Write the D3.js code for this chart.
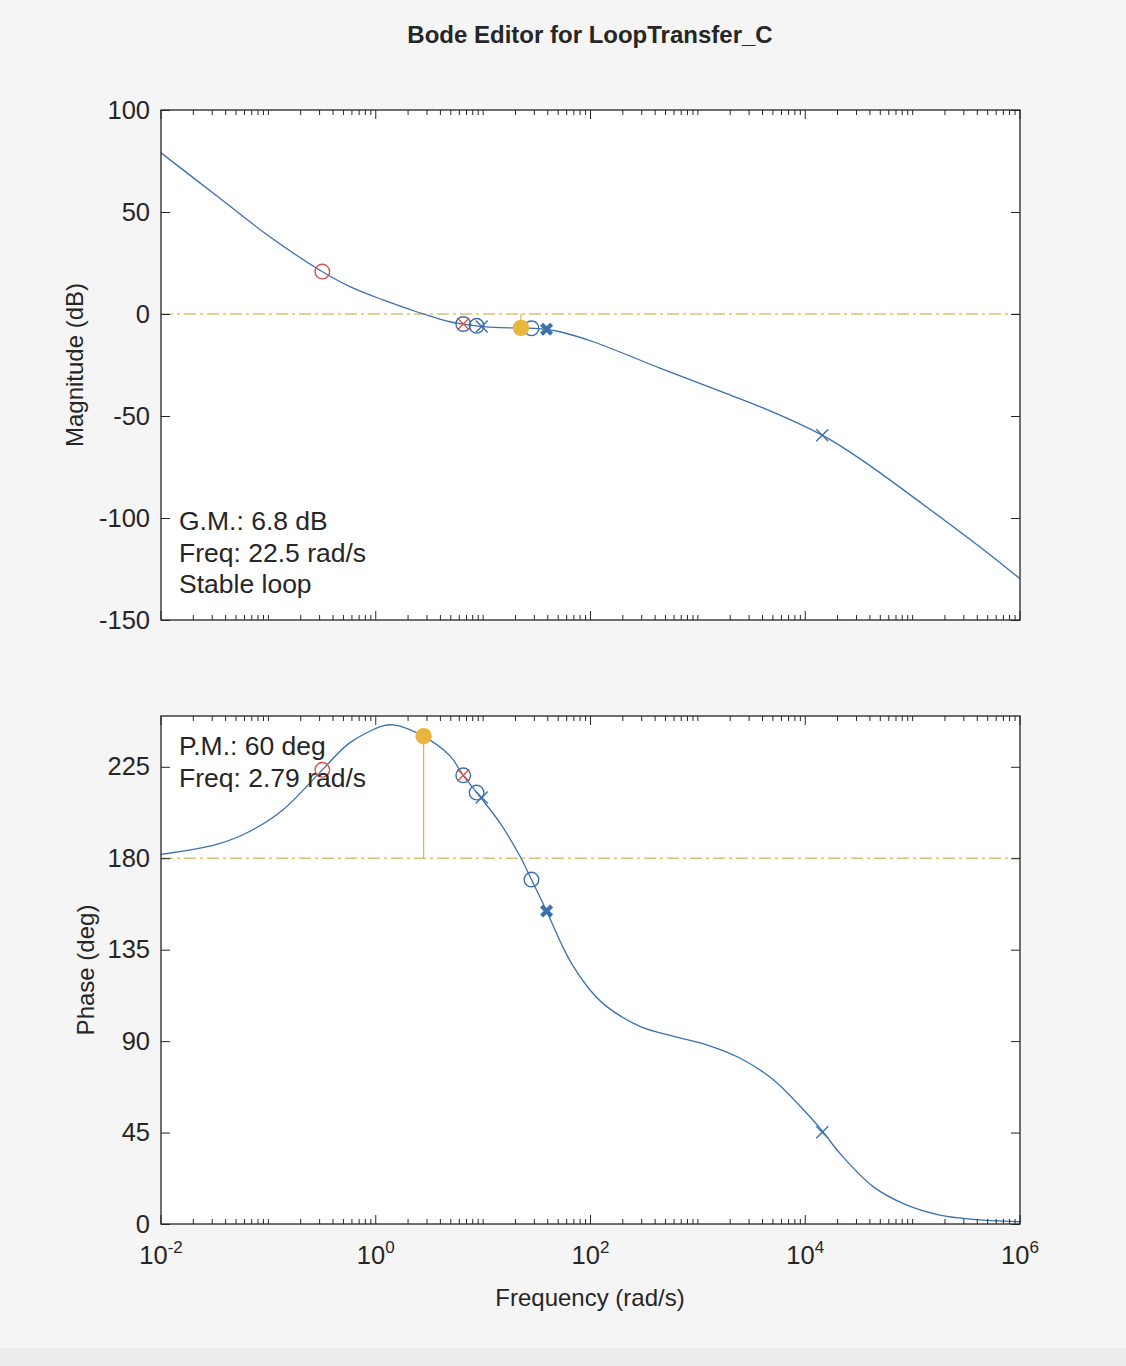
<!DOCTYPE html>
<html>
<head>
<meta charset="utf-8">
<script src="https://cdn.jsdelivr.net/npm/d3@7"></script>
<style>
  html, body { margin: 0; padding: 0; background: #f5f5f5; }
  svg { display: block; font-family: "Liberation Sans", Arial, Helvetica, sans-serif; }
</style>
</head>
<body>
<svg id="chart" width="1126" height="1366"></svg>
<script>
// magnitude curve (rad/s, dB)
var magFreq = [0.01, 0.0316, 0.1, 0.316, 0.575, 1.17, 2.4, 2.79, 4.91, 6.53, 9.0, 14.3, 22.5, 29.3, 39.0, 51.9, 106, 443, 1850, 5400, 14400, 32200, 135000, 562000, 1e6];
var magDb   = [79, 58.7, 38.4, 20.8, 13.4, 6.9, 1.1, 0, -3.8, -4.9, -5.9, -6.7, -6.8, -7.0, -7.5, -8.7, -13.6, -26.5, -39, -48.8, -59.4, -70.9, -94.6, -119.2, -129.8];

// phase curve (rad/s, deg)
var phFreq = [0.01, 0.033, 0.0675, 0.138, 0.318, 0.575, 1.17, 1.46, 2.79, 4.91, 6.53, 9.0, 14.3, 22.0, 28.2, 39.0, 55.7, 69.0, 98.6, 141, 288, 589, 1205, 2460, 5040, 10280, 14700, 21000, 42900, 87500, 179000, 366000, 1e6];
var phDeg  = [181.9, 186.8, 193.3, 204, 223.5, 236.9, 245.1, 245.6, 240, 230.4, 220.8, 211.4, 197.5, 181.1, 169.5, 154, 135.9, 126.9, 115.3, 107.1, 97.3, 92.4, 88.2, 81.7, 71, 54.6, 45.2, 34.8, 18.4, 9.4, 4.4, 2.3, 1.1];

// compensator / plant poles and zeros
var markerKind  = ["o", "o", "x", "o", "x", "o", "X", "x"];
var markerColor = ["red", "blue", "red", "blue", "blue", "blue", "blue", "blue"];
var markerFreq  = [0.318, 6.53, 6.53, 8.7, 9.7, 28.2, 39.0, 14400];
var markerMag   = [20.8, -4.9, -4.9, -5.8, -6.1, -7.0, -7.5, -59.4];
var markerPh    = [223.5, 220.8, 220.8, 212.3, 209.9, 169.5, 154, 45.2];

// margins
var gmFreq = 22.5, gmMag = -6.8;
var pmFreq = 2.79, pmPh = 240;
var magText = ["G.M.: 6.8 dB", "Freq: 22.5 rad/s", "Stable loop"];
var phText  = ["P.M.: 60 deg", "Freq: 2.79 rad/s"];

var magTicks = [-150, -100, -50, 0, 50, 100];
var phTicks  = [0, 45, 90, 135, 180, 225];
var freqTicks = [1e-2, 1e0, 1e2, 1e4, 1e6];

var colors = { blue: "#3a70ad", red: "#d9534a", gold: "#e9b53f", ref: "#d6c476", ink: "#262626" };

var svg = d3.select("#chart");
svg.append("rect").attr("x", 0).attr("y", 1348).attr("width", 1126).attr("height", 18).attr("fill", "#ededed");

var left = 161, right = 1020;
var x = d3.scaleLog().domain([1e-2, 1e6]).range([left, right]);
var yMag = d3.scaleLinear().domain([-150, 100]).range([620, 110]);
var yPh = d3.scaleLinear().domain([0, 250]).range([1224, 716]);

// minor ticks: 1..9 x each decade, excluding labelled decades
var minorTicks = [];
for (var e = -2; e < 6; e++) {
	for (var m = 1; m < 10; m++) {
		var v = m * Math.pow(10, e);
		if (freqTicks.indexOf(v) < 0) minorTicks.push(v);
	}
}

svg.append("text").attr("x", 590).attr("y", 43).attr("text-anchor", "middle")
	.attr("font-size", 24).attr("font-weight", "bold").attr("fill", colors.ink)
	.text("Bode Editor for LoopTransfer_C");

function drawPanel(id, y, ticks, label, labelX, fr, vals) {
	var top = y.range()[1], bottom = y.range()[0];
	var g = svg.append("g").attr("id", id);
	g.append("rect").attr("x", left).attr("y", top).attr("width", right - left).attr("height", bottom - top).attr("fill", "#fff");

	g.append("clipPath").attr("id", id + "Clip").append("rect")
		.attr("x", left).attr("y", top).attr("width", right - left).attr("height", bottom - top);
	var plot = g.append("g").attr("clip-path", "url(#" + id + "Clip)");

	// x ticks, inside, top and bottom
	[bottom, top].forEach(function(yy) {
		var dir = yy === bottom ? -1 : 1;
		g.selectAll(null).data(minorTicks).enter().append("line")
			.attr("x1", function(d) { return x(d); }).attr("x2", function(d) { return x(d); })
			.attr("y1", yy).attr("y2", yy + dir * 5).attr("stroke", colors.ink).attr("stroke-width", 1);
		g.selectAll(null).data(freqTicks).enter().append("line")
			.attr("x1", function(d) { return x(d); }).attr("x2", function(d) { return x(d); })
			.attr("y1", yy).attr("y2", yy + dir * 9).attr("stroke", colors.ink).attr("stroke-width", 1);
	});

	var axL = g.append("g").attr("transform", "translate(" + left + ",0)")
		.call(d3.axisLeft(y).tickValues(ticks).tickSizeInner(-9).tickSizeOuter(0).tickPadding(11).tickFormat(String));
	var axR = g.append("g").attr("transform", "translate(" + right + ",0)")
		.call(d3.axisRight(y).tickValues(ticks).tickSizeInner(-9).tickSizeOuter(0).tickFormat(""));
	[axL, axR].forEach(function(ax) {
		ax.select(".domain").remove();
		ax.selectAll("line").attr("stroke", colors.ink);
	});
	axL.selectAll("text").attr("font-size", 25.5).attr("fill", colors.ink)
		.attr("font-family", "'Liberation Sans', Arial, sans-serif");

	g.append("rect").attr("x", left).attr("y", top).attr("width", right - left).attr("height", bottom - top)
		.attr("fill", "none").attr("stroke", colors.ink).attr("stroke-width", 1.3);

	g.append("text").attr("transform", "translate(" + labelX + "," + ((top + bottom) / 2) + ") rotate(-90)")
		.attr("text-anchor", "middle").attr("font-size", 24).attr("fill", colors.ink).text(label);

	var line = d3.line().x(function(d) { return x(d[0]); }).y(function(d) { return y(d[1]); })
		.curve(d3.curveCatmullRom.alpha(0.5));
	plot.append("path").datum(d3.zip(fr, vals)).attr("d", line)
		.attr("fill", "none").attr("stroke", colors.blue).attr("stroke-width", 1.3);
	return { g: g, plot: plot };
}

var magPanel = drawPanel("mag", yMag, magTicks, "Magnitude (dB)", 83, magFreq, magDb);
var phPanel = drawPanel("phase", yPh, phTicks, "Phase (deg)", 94, phFreq, phDeg);

// reference lines (0 dB, 180 deg), drawn under the curve
function refLine(panel, y, v) {
	panel.plot.insert("line", "path").attr("x1", left).attr("x2", right).attr("y1", y(v)).attr("y2", y(v))
		.attr("stroke", colors.ref).attr("stroke-width", 1.7).attr("stroke-dasharray", "12,4,3,4");
}
refLine(magPanel, yMag, 0);
refLine(phPanel, yPh, 180);

// margin stems
magPanel.plot.append("line").attr("x1", x(gmFreq)).attr("x2", x(gmFreq)).attr("y1", yMag(0)).attr("y2", yMag(gmMag))
	.attr("stroke", colors.gold).attr("stroke-width", 1.3);
phPanel.plot.append("line").attr("x1", x(pmFreq)).attr("x2", x(pmFreq)).attr("y1", yPh(180)).attr("y2", yPh(pmPh))
	.attr("stroke", colors.gold).attr("stroke-width", 1.3);

function drawMarkers(panel, y, vals) {
	markerKind.forEach(function(k, i) {
		var cx = x(markerFreq[i]), cy = y(vals[i]);
		var c = colors[markerColor[i]];
		if (k === "o") {
			panel.plot.append("circle").attr("cx", cx).attr("cy", cy).attr("r", 7.3)
				.attr("fill", "none").attr("stroke", c).attr("stroke-width", 1.4);
		} else {
			var s = k === "X" ? 5 : 6, w = k === "X" ? 4.2 : 1.4;
			panel.plot.append("path")
				.attr("d", "M" + (cx - s) + "," + (cy - s) + "L" + (cx + s) + "," + (cy + s) +
					"M" + (cx - s) + "," + (cy + s) + "L" + (cx + s) + "," + (cy - s))
				.attr("stroke", c).attr("stroke-width", w).attr("fill", "none");
		}
	});
}
drawMarkers(magPanel, yMag, markerMag);
drawMarkers(phPanel, yPh, markerPh);

magPanel.plot.append("circle").attr("cx", x(gmFreq)).attr("cy", yMag(gmMag)).attr("r", 8.2).attr("fill", colors.gold);
phPanel.plot.append("circle").attr("cx", x(pmFreq)).attr("cy", yPh(pmPh)).attr("r", 8.2).attr("fill", colors.gold);

// annotations
magText.forEach(function(t, i) {
	magPanel.g.append("text").attr("x", 179).attr("y", 530 + i * 31.5).attr("font-size", 26.5)
		.attr("fill", colors.ink).text(t);
});
phText.forEach(function(t, i) {
	phPanel.g.append("text").attr("x", 179).attr("y", 755 + i * 31.5).attr("font-size", 26.5)
		.attr("fill", colors.ink).text(t);
});

// frequency tick labels with superscript exponents
svg.selectAll(null).data(freqTicks).enter().append("text")
	.attr("x", function(d) { return x(d); }).attr("y", 1264).attr("text-anchor", "middle")
	.attr("font-size", 25.5).attr("fill", colors.ink)
	.each(function(d) {
		var t = d3.select(this);
		t.append("tspan").text("10");
		t.append("tspan").attr("dy", -11).attr("font-size", 17).text(Math.round(Math.log10(d)));
	});

svg.append("text").attr("x", 590).attr("y", 1306).attr("text-anchor", "middle")
	.attr("font-size", 24).attr("fill", colors.ink).text("Frequency (rad/s)");
</script>
</body>
</html>
